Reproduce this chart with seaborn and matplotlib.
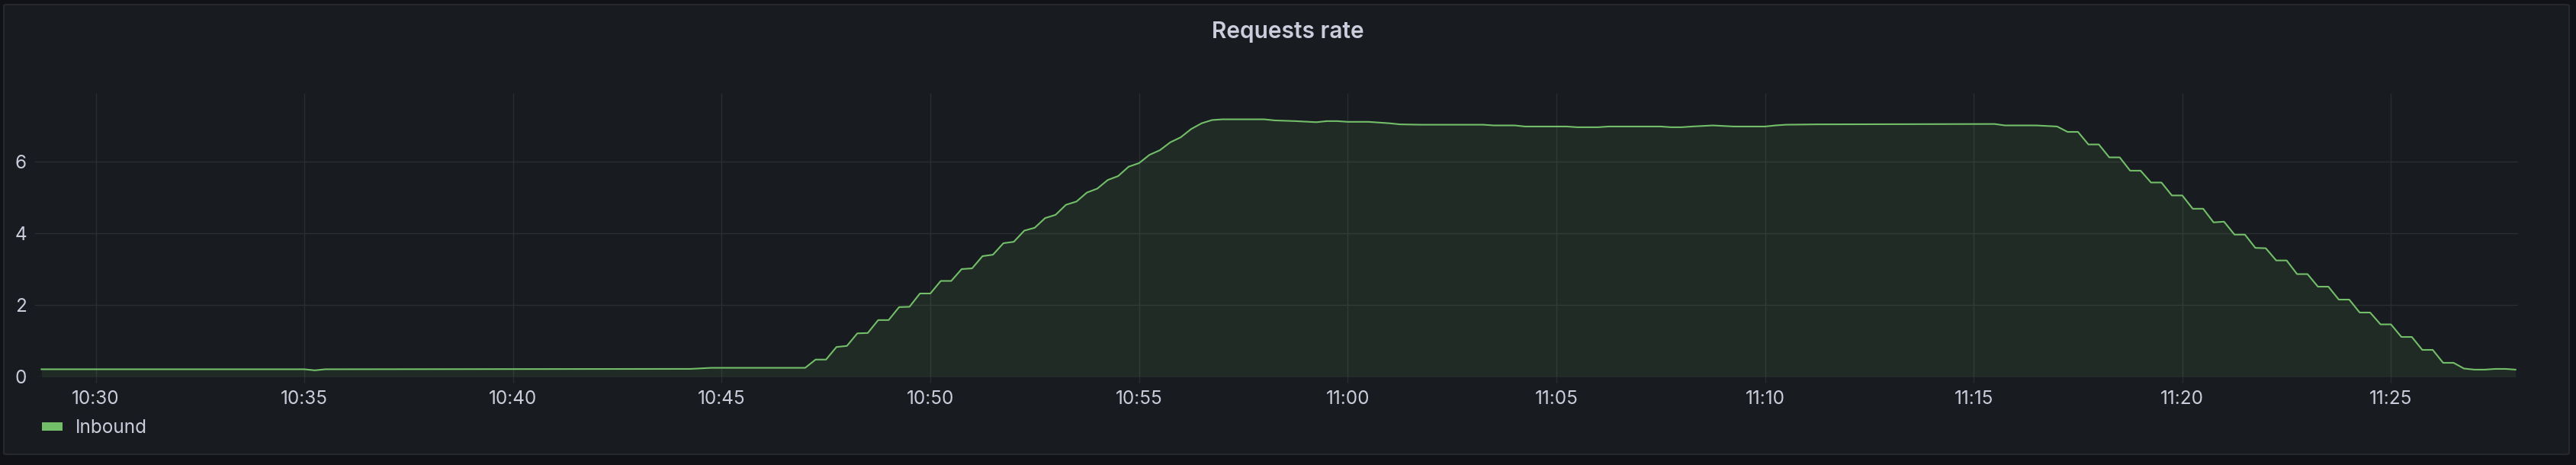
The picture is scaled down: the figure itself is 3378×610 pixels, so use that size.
import pandas as pd
import seaborn as sns
import matplotlib.pyplot as plt
import matplotlib.dates as mdates
from matplotlib.patches import FancyBboxPatch, Patch

# Inbound request rate, sampled every 15 s (flat stretches kept sparse)
times = [
    "10:28:42", "10:35:00", "10:35:15", "10:35:30", "10:44:15", "10:44:45", "10:47:00",
    "10:47:15", "10:47:30", "10:47:45", "10:48:00", "10:48:15", "10:48:30", "10:48:45",
    "10:49:00", "10:49:15", "10:49:30", "10:49:45", "10:50:00", "10:50:15", "10:50:30",
    "10:50:45", "10:51:00", "10:51:15", "10:51:30", "10:51:45", "10:52:00", "10:52:15",
    "10:52:30", "10:52:45", "10:53:00", "10:53:15", "10:53:30", "10:53:45", "10:54:00",
    "10:54:15", "10:54:30", "10:54:45", "10:55:00", "10:55:15", "10:55:30", "10:55:45",
    "10:56:00", "10:56:15", "10:56:30", "10:56:45", "10:57:00", "10:58:00", "10:58:15",
    "10:58:45", "10:59:15", "10:59:30", "10:59:45", "11:00:00", "11:00:30", "11:01:00",
    "11:01:15", "11:01:45", "11:03:15", "11:03:30", "11:04:00", "11:04:15", "11:05:15",
    "11:05:30", "11:06:00", "11:06:15", "11:07:30", "11:07:45", "11:08:00", "11:08:15",
    "11:08:45", "11:09:15", "11:10:00", "11:10:15", "11:10:30", "11:11:15", "11:15:30",
    "11:15:45", "11:16:30", "11:17:00", "11:17:15", "11:17:30", "11:17:45", "11:18:00",
    "11:18:15", "11:18:30", "11:18:45", "11:19:00", "11:19:15", "11:19:30", "11:19:45",
    "11:20:00", "11:20:15", "11:20:30", "11:20:45", "11:21:00", "11:21:15", "11:21:30",
    "11:21:45", "11:22:00", "11:22:15", "11:22:30", "11:22:45", "11:23:00", "11:23:15",
    "11:23:30", "11:23:45", "11:24:00", "11:24:15", "11:24:30", "11:24:45", "11:25:00",
    "11:25:15", "11:25:30", "11:25:45", "11:26:00", "11:26:15", "11:26:30", "11:26:45",
    "11:27:00", "11:27:15", "11:27:30", "11:27:45", "11:27:59",
]
inbound = [
    0.21, 0.21, 0.18, 0.21, 0.22, 0.25, 0.25,
    0.48, 0.48, 0.83, 0.86, 1.21, 1.22, 1.58,
    1.58, 1.94, 1.95, 2.32, 2.32, 2.67, 2.67,
    3.00, 3.02, 3.36, 3.40, 3.72, 3.76, 4.07,
    4.15, 4.42, 4.51, 4.79, 4.88, 5.13, 5.24,
    5.48, 5.59, 5.85, 5.95, 6.18, 6.31, 6.53,
    6.67, 6.90, 7.06, 7.15, 7.17, 7.17, 7.14,
    7.12, 7.09, 7.12, 7.12, 7.10, 7.10, 7.06,
    7.03, 7.02, 7.02, 7.00, 7.00, 6.97, 6.97,
    6.95, 6.95, 6.97, 6.97, 6.95, 6.95, 6.97,
    7.00, 6.97, 6.97, 7.00, 7.02, 7.03, 7.04,
    7.00, 7.00, 6.97, 6.82, 6.82, 6.47, 6.47,
    6.11, 6.11, 5.74, 5.74, 5.41, 5.41, 5.05,
    5.05, 4.68, 4.68, 4.30, 4.32, 3.96, 3.96,
    3.59, 3.58, 3.24, 3.24, 2.86, 2.86, 2.51,
    2.51, 2.15, 2.15, 1.79, 1.79, 1.46, 1.46,
    1.11, 1.11, 0.75, 0.75, 0.39, 0.39, 0.23,
    0.20, 0.20, 0.22, 0.22, 0.20,
]
series_name = "Inbound"
title = "Requests rate"

df = pd.DataFrame({
    "time": pd.to_datetime(["2024-01-01 " + t for t in times]),
    "rate": inbound,
})

canvas = "#111217"
panel = "#181b1f"
border = "#26282d"
grid_c = "#2a2d32"
text_c = "#ccccdc"
green = "#73bf69"

W, H = 3378, 610
fig = plt.figure(figsize=(W / 100, H / 100), dpi=100, facecolor=canvas)
plt.rcParams['font.family'] = ['Inter', 'DejaVu Sans']

# panel box behind everything
fig.patches.append(FancyBboxPatch((5 / W, 1 - 596 / H), 3364 / W, 590 / H,
                                  boxstyle="round,pad=0,rounding_size=0.002",
                                  transform=fig.transFigure, facecolor=panel,
                                  edgecolor=border, lw=1.5, zorder=-10))

ax = fig.add_axes([46 / W, 1 - 494.3 / H, (3302 - 46) / W, (494.3 - 122.6) / H])
ax.set_facecolor("none")
ax.set_zorder(2)

sns.lineplot(data=df, x="time", y="rate", ax=ax, color=green, lw=1.5, legend=False)
ax.fill_between(df["time"], df["rate"], 0, color=green, alpha=0.1, lw=0)

ax.set_xlim(pd.Timestamp("2024-01-01 10:28:32.8"), pd.Timestamp("2024-01-01 11:28:02.7"))
ax.set_ylim(0, 7.89)
ax.set_yticks([0, 2, 4, 6])
ax.xaxis.set_major_locator(mdates.MinuteLocator(byminute=range(0, 60, 5)))
ax.xaxis.set_major_formatter(mdates.DateFormatter("%H:%M"))

ax.grid(True, color=grid_c, lw=1.0)
ax.set_axisbelow(True)
for s in ax.spines.values():
    s.set_visible(False)
ax.tick_params(axis="x", length=6, width=1.0, color=grid_c, pad=7, labelsize=17.5, labelcolor=text_c)
ax.tick_params(axis="y", length=0, pad=8, labelsize=17.5, labelcolor=text_c)
ax.set_xlabel("")
ax.set_ylabel("")

fig.text(0.5, 1 - 50 / H, title, ha="center", va="baseline", fontsize=21.5,
         color=text_c, fontweight="semibold")

handle = Patch(facecolor=green, edgecolor="none")
fig.legend(handles=[handle], labels=[series_name], loc="center left",
           bbox_to_anchor=(54.6 / W, 1 - 562 / H), frameon=False, borderpad=0,
           borderaxespad=0, handlelength=1.12, handleheight=0.34,
           handletextpad=0.7, fontsize=17.5, labelcolor=text_c)

fig.savefig("out.png", dpi=100, facecolor=canvas)
